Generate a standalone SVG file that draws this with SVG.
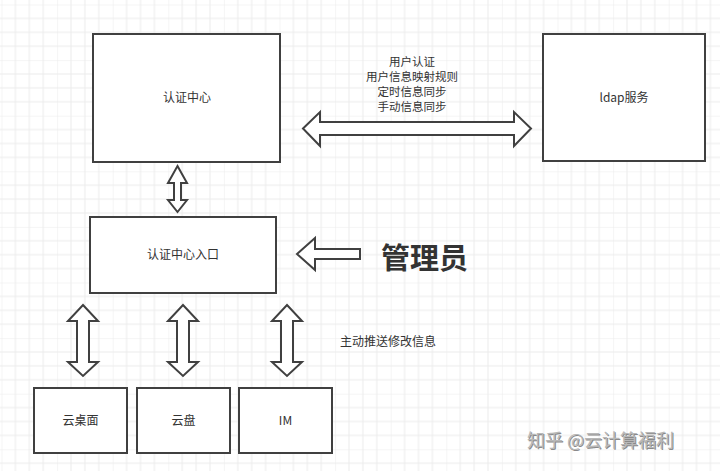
<svg xmlns="http://www.w3.org/2000/svg" width="720" height="471" viewBox="0 0 720 471">
<defs>
<pattern id="grid" patternUnits="userSpaceOnUse" x="1.5" y="4.5" width="55.6" height="55.6">
<path d="M0 0H55.6M0 13.9H55.6M0 27.8H55.6M0 41.7H55.6M0 0V55.6M13.9 0V55.6M27.8 0V55.6M41.7 0V55.6" stroke="#ececec" stroke-width="1" fill="none"/>
</pattern>
</defs>
<style>
.box{fill:#fff;stroke:#404040;stroke-width:2}
.arr{fill:#fff;stroke:#404040;stroke-width:2;stroke-linejoin:miter}
.t{font-family:"Noto Sans CJK SC","Noto Sans",sans-serif;font-size:12px;fill:#333;text-anchor:middle}
.s{font-size:11.5px}
.big{font-family:"Noto Sans CJK SC",sans-serif;font-size:29px;font-weight:bold;fill:#333}
.wm{font-family:"Noto Sans CJK SC",sans-serif;font-size:18px;fill:#b8b8b8}
</style>
<rect width="720" height="471" fill="#fff"/>
<rect width="720" height="471" fill="url(#grid)"/>
<g id="connectors">
<path class="arr" d="M303 128.5 L320 112 L320 122 L514 122 L514 112 L531 128.5 L514 146 L514 135 L320 135 L320 146 Z"/>
<path class="arr" d="M177.5 166 L187 183 L181 183 L181 200 L187 200 L177.5 212 L168 200 L174 200 L174 183 L168 183 Z"/>
<path class="arr" d="M297 254 L315 238 L315 249 L360 249 L360 259 L315 259 L315 270 Z"/>
<path class="arr" d="M83 305 L98 321 L89 321 L89 362 L98 362 L83 376 L68 362 L77 362 L77 321 L68 321 Z"/>
<path class="arr" d="M183 305 L198 321 L189 321 L189 362 L198 362 L183 376 L168 362 L177 362 L177 321 L168 321 Z"/>
<path class="arr" d="M287 305 L302 321 L293 321 L293 362 L302 362 L287 376 L272 362 L281 362 L281 321 L272 321 Z"/>
</g>
<g id="auth-center">
<rect class="box" x="93" y="34" width="187" height="128"/>
<text class="t" x="187" y="102">认证中心</text>
</g>
<g id="ldap">
<rect class="box" x="543" y="34" width="162" height="127"/>
<text class="t" x="624" y="102">ldap服务</text>
</g>
<g id="sync-label">
<text class="t s" x="412" y="66">用户认证</text>
<text class="t s" x="412" y="81">用户信息映射规则</text>
<text class="t s" x="412" y="96">定时信息同步</text>
<text class="t s" x="412" y="111">手动信息同步</text>
</g>
<g id="auth-entry">
<rect class="box" x="90" y="217" width="186" height="76"/>
<text class="t" x="183" y="259">认证中心入口</text>
</g>
<g id="admin">
<text class="big" x="381" y="269">管理员</text>
</g>
<g id="push-label">
<text class="t" x="388" y="346">主动推送修改信息</text>
</g>
<g id="desktop">
<rect class="box" x="34" y="388" width="93" height="65"/>
<text class="t" x="80.5" y="425">云桌面</text>
</g>
<g id="disk">
<rect class="box" x="137" y="388" width="93" height="65"/>
<text class="t" x="183.5" y="425">云盘</text>
</g>
<g id="im">
<rect class="box" x="239" y="388" width="93" height="65"/>
<text class="t" x="285.5" y="425">IM</text>
</g>
<text class="wm" x="528" y="448" style="fill:#8a8a8a">知乎 @云计算福利</text>
<text class="wm" x="527" y="447">知乎 @云计算福利</text>
</svg>
